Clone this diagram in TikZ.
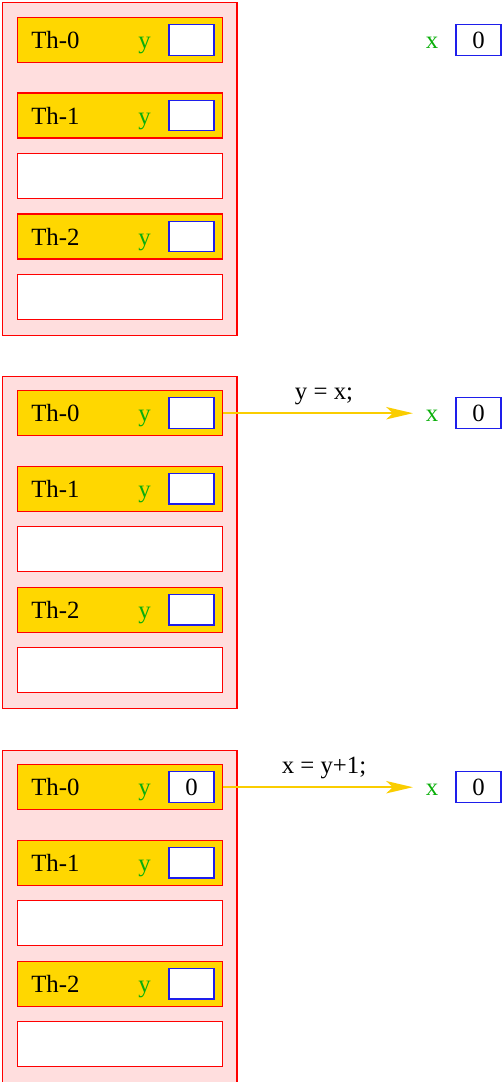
\documentclass[tikz,border=0pt]{standalone}
\usepackage{fontspec}
\setmainfont{Liberation Serif}
\usepackage{xcolor}
\usetikzlibrary{arrows.meta}

\definecolor{stackpink}{RGB}{255,222,222}
\definecolor{threadgold}{RGB}{255,215,0}
\definecolor{cellblue}{RGB}{30,30,235}
\definecolor{vargreen}{RGB}{10,175,10}
\definecolor{flowgold}{RGB}{250,205,0}

\begin{document}
\begin{tikzpicture}[x=0.75pt,y=0.75pt,yscale=-1,xscale=1,
  font=\fontsize{18.6}{22}\selectfont,
  stack/.style={draw=red, fill=stackpink, line width=0.8pt, minimum width=175.9pt, minimum height=249.2pt, inner sep=0pt, outer sep=0pt},
  thread/.style={draw=red, fill=threadgold, line width=0.8pt, minimum width=153.75pt, minimum height=33.75pt, inner sep=0pt, outer sep=0pt},
  slot/.style={thread, fill=white},
  cell/.style={draw=cellblue, fill=white, line width=0.8pt, minimum width=33.75pt, minimum height=22.9pt, inner sep=0pt, outer sep=0pt},
  var/.style={text=vargreen, anchor=base, inner sep=0pt},
  thname/.style={anchor=base west, inner sep=0pt},
  stmt/.style={midway, above=6pt, inner sep=0pt, text=black},
  flow/.style={color=flowgold, line width=1.2pt, -{Stealth[length=20pt,width=9.3pt,inset=5pt]}, shorten >=9.5pt}]
\useasboundingbox (0,0) rectangle (502,1082);

%Rectangle [panel 1]
\node[stack] (s1) at (119.75,169) {};
\node[thread] (t10) at (120,40) {};
\node[thread] (t11) at (120,115.5) {};
\node[slot] (e11) at (120,176) {};
\node[thread] (t12) at (120,236.5) {};
\node[slot] (e12) at (120,297) {};
%Text Node
\node[thname] (n10) at (31,48.7) {Th-0};
\node[thname] (n11) at (31,124.2) {Th-1};
\node[thname] (n12) at (31,245.2) {Th-2};
\node[var] (y10) at (144.5,48.7) {y};
\node[var] (y11) at (144.5,124.2) {y};
\node[var] (y12) at (144.5,245.2) {y};
\node[cell] (c10) at (191.5,40) {};
\node[cell] (c11) at (191.5,115.5) {};
\node[cell] (c12) at (191.5,236.5) {};
\node[var] (x1) at (432,48.7) {x};
\node[cell] (xc1) at (478.5,40) {0};

%Rectangle [panel 2]
\node[stack] (s2) at (119.75,542.2) {};
\node[thread] (t20) at (120,413.2) {};
\node[thread] (t21) at (120,488.7) {};
\node[slot] (e21) at (120,549.2) {};
\node[thread] (t22) at (120,609.7) {};
\node[slot] (e22) at (120,670.2) {};
%Text Node
\node[thname] (n20) at (31,421.9) {Th-0};
\node[thname] (n21) at (31,497.4) {Th-1};
\node[thname] (n22) at (31,618.4) {Th-2};
\node[var] (y20) at (144.5,421.9) {y};
\node[var] (y21) at (144.5,497.4) {y};
\node[var] (y22) at (144.5,618.4) {y};
\node[cell] (c20) at (191.5,413.2) {};
\node[cell] (c21) at (191.5,488.7) {};
\node[cell] (c22) at (191.5,609.7) {};
\node[var] (x2) at (432,421.9) {x};
\node[cell] (xc2) at (478.5,413.2) {0};
%Straight Lines
\draw[flow] (t20.east) -- (t20.east -| x2.west) node[stmt] (a2) {y = x;};

%Rectangle [panel 3]
\node[stack] (s3) at (119.75,916.2) {};
\node[thread] (t30) at (120,787.2) {};
\node[thread] (t31) at (120,862.7) {};
\node[slot] (e31) at (120,923.2) {};
\node[thread] (t32) at (120,983.7) {};
\node[slot] (e32) at (120,1044.2) {};
%Text Node
\node[thname] (n30) at (31,795.9) {Th-0};
\node[thname] (n31) at (31,871.4) {Th-1};
\node[thname] (n32) at (31,992.4) {Th-2};
\node[var] (y30) at (144.5,795.9) {y};
\node[var] (y31) at (144.5,871.4) {y};
\node[var] (y32) at (144.5,992.4) {y};
\node[cell] (c30) at (191.5,787.2) {0};
\node[cell] (c31) at (191.5,862.7) {};
\node[cell] (c32) at (191.5,983.7) {};
\node[var] (x3) at (432,795.9) {x};
\node[cell] (xc3) at (478.5,787.2) {0};
%Straight Lines
\draw[flow] (t30.east) -- (t30.east -| x3.west) node[stmt] (a3) {x = y+1;};

\end{tikzpicture}
\end{document}
